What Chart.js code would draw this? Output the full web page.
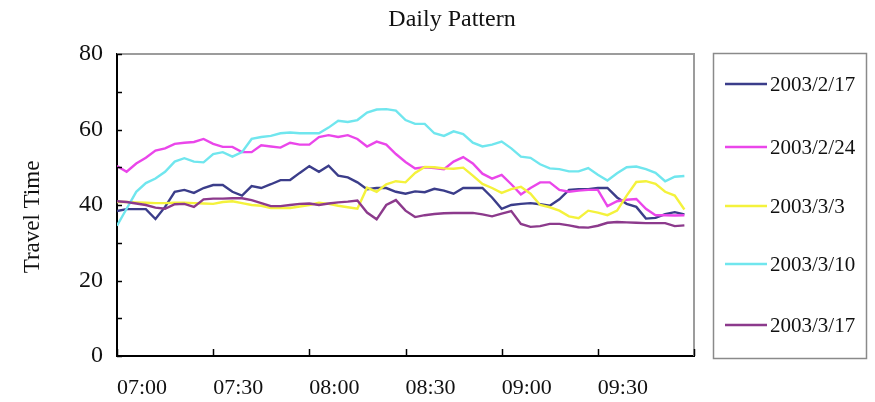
<!DOCTYPE html>
<html><head><meta charset="utf-8">
<script src="https://cdn.jsdelivr.net/npm/chart.js@4/dist/chart.umd.min.js"></script>
<style>html,body{margin:0;padding:0;background:#fff}#wrap{width:875px;height:402px;position:relative}</style>
</head><body><div id="wrap"><canvas id="c" width="875" height="402"></canvas></div>
<script>
// minutes after 07:00 (3-minute samples)
const minutes = [0,3,6,9,12,15,18,21,24,27,30,33,36,39,42,45,48,51,54,57,60,63,66,69,72,75,78,81,84,87,90,93,96,99,102,105,108,111,114,117,120,123,126,129,132,135,138,141,144,147,150,153,156,159,162,165,168,171,174,177];
const tickLabels = ['07:00','07:30','08:00','08:30','09:00','09:30'];
const seriesNames = ['2003/2/17','2003/2/24','2003/3/3','2003/3/10','2003/3/17'];
const seriesColors = ['#3b3d8a','#ea46ea','#f4f23c','#70e6ee','#8c3a8c'];
const s0217 = [38.4,38.9,38.9,38.9,36.3,39.5,43.5,44,43.2,44.5, 45.3,45.3,43.5,42.5,45,44.5,45.5,46.6,46.6,48.5, 50.3,48.8,50.4,47.8,47.3,46,44.2,44.5,44.5,43.5, 43,43.6,43.4,44.3,43.8,43,44.5,44.5,44.5,42, 39,40,40.3,40.5,40.2,39.8,41.5,44,44.2,44.2, 44.5,44.5,42,40.3,39.5,36.4,36.6,37.6,38.1,37.5];
const s0224 = [50.3,48.8,51,52.5,54.4,55,56.2,56.5,56.7,57.5, 56.2,55.4,55.4,54,54,55.8,55.5,55.2,56.5,56, 56,58,58.5,58,58.5,57.5,55.5,56.8,56,53.5, 51.4,49.7,50,49.8,49.5,51.5,52.7,51,48.3,47, 48,45.5,42.8,44.5,46,46,44,43.5,43.8,44, 44,39.7,41,41.4,41.6,39,37.3,37.3,37.2,37.3];
const s0303 = [40.8,40.8,40.7,40.6,40.5,40.5,40.6,40.6,40.5,40.4, 40.3,40.8,41,40.5,40,39.8,39.2,39.2,39.2,39.6, 40,40.6,40.3,39.8,39.4,39,44.6,43.5,45.5,46.3, 46,48.5,50.1,50,49.7,49.6,49.9,47.8,45.6,44.5, 43.2,44.2,44.8,43,40,39.4,38.5,37,36.5,38.5, 38,37.3,38.5,42.5,46.1,46.3,45.6,43.5,42.5,38.8];
const s0310 = [34.5,39,43.5,45.8,47,48.8,51.5,52.4,51.5,51.3, 53.5,54,52.8,54,57.5,58,58.3,59,59.2,59, 59,59,60.5,62.3,62,62.5,64.5,65.3,65.4,65, 62.5,61.5,61.5,59,58.3,59.5,58.8,56.5,55.5,56, 56.8,55,52.8,52.5,50.8,49.7,49.5,48.9,48.9,49.8, 48,46.5,48.4,50,50.2,49.5,48.5,46.3,47.5,47.7];
const s0317 = [41,40.8,40.4,40,39.3,39,40.2,40.3,39.5,41.5, 41.7,41.7,41.8,41.8,41.3,40.5,39.7,39.7,40,40.3, 40.4,40,40.4,40.7,40.9,41.2,38,36.2,40,41.3, 38.5,36.8,37.3,37.6,37.8,37.9,37.9,37.9,37.5,37, 37.7,38.4,35,34.2,34.4,35,35,34.6,34.1,34, 34.5,35.3,35.5,35.4,35.3,35.2,35.2,35.2,34.4,34.6];
const seriesValues = [s0217, s0224, s0303, s0310, s0317];

const FONT = '"Liberation Serif", "Times New Roman", serif';

const datasets = seriesValues.map((vals, k) => ({
  label: seriesNames[k],
  data: minutes.map((m, i) => ({x: m, y: vals[i]})),
  borderColor: seriesColors[k],
  backgroundColor: seriesColors[k],
  borderWidth: 2.4,
  pointRadius: 0,
  tension: 0,
  fill: false,
  order: 5 - k
}));

const decor = {
  id: 'decor',
  beforeDraw(chart) {
    const ctx = chart.ctx;
    ctx.save(); ctx.fillStyle = '#fff'; ctx.fillRect(0, 0, chart.width, chart.height); ctx.restore();
  },
  afterDraw(chart) {
    const {ctx, chartArea: a, scales: {x, y}} = chart;
    ctx.save();
    // frame top/right
    ctx.strokeStyle = '#9c9c9c'; ctx.lineWidth = 2;
    ctx.beginPath(); ctx.moveTo(a.left, a.top); ctx.lineTo(a.right, a.top); ctx.lineTo(a.right, a.bottom); ctx.stroke();
    // inward tick marks
    ctx.strokeStyle = '#000'; ctx.lineWidth = 1.5;
    y.ticks.forEach(t => {
      const py = Math.round(y.getPixelForValue(t.value)) + 0.5;
      ctx.beginPath(); ctx.moveTo(a.left, py); ctx.lineTo(a.left + 5, py); ctx.stroke();
    });
    x.ticks.forEach(t => {
      const px = Math.round(x.getPixelForValue(t.value)) + 0.5;
      ctx.beginPath(); ctx.moveTo(px, a.bottom); ctx.lineTo(px, a.bottom - 7); ctx.stroke();
    });
    // title
    ctx.fillStyle = '#111';
    ctx.font = '24px ' + FONT;
    ctx.textAlign = 'center'; ctx.textBaseline = 'middle';
    ctx.fillText('Daily Pattern', 452, 20);
    // y axis title
    ctx.save();
    ctx.translate(33, 217); ctx.rotate(-Math.PI / 2);
    ctx.font = '23px ' + FONT;
    ctx.fillText('Travel Time', 0, 0);
    ctx.restore();
    // legend
    ctx.strokeStyle = '#8a8a8a'; ctx.lineWidth = 1.5;
    ctx.strokeRect(713.5, 53.5, 153, 305);
    const ys = [84, 147, 206, 264, 325];
    ctx.font = '21px ' + FONT; ctx.textAlign = 'left'; ctx.textBaseline = 'middle';
    chart.data.datasets.forEach((ds, k) => {
      ctx.strokeStyle = ds.borderColor; ctx.lineWidth = 2.4;
      ctx.beginPath(); ctx.moveTo(725, ys[k]); ctx.lineTo(767, ys[k]); ctx.stroke();
      ctx.fillStyle = '#111';
      ctx.fillText(ds.label, 770, ys[k] + 1);
    });
    ctx.restore();
  }
};

new Chart(document.getElementById('c'), {
  type: 'line',
  data: {datasets},
  options: {
    responsive: false,
    animation: false,
    devicePixelRatio: 1,
    layout: {padding: {top: 54, right: 181, bottom: 0, left: 0}},
    plugins: {legend: {display: false}, title: {display: false}, tooltip: {enabled: false}},
    scales: {
      x: {
        type: 'linear', min: 0, max: 180,
        afterBuildTicks: s => { s.ticks = [0,30,60,90,120,150,180].map(v => ({value: v})); },
        afterFit: s => { s.height = 46; },
        ticks: {
          callback: v => tickLabels[v / 30] !== undefined ? tickLabels[v / 30] : '',
          align: 'start', maxRotation: 0, autoSkip: false, padding: 19,
          color: '#111', font: {family: FONT, size: 22}
        },
        grid: {drawOnChartArea: false, drawTicks: false},
        border: {display: true, color: '#000', width: 2}
      },
      y: {
        min: 0, max: 80,
        afterBuildTicks: s => { s.ticks = [0,10,20,30,40,50,60,70,80].map(v => ({value: v})); },
        afterFit: s => { s.width = 117; },
        ticks: {
          callback: v => (v % 20 === 0 ? String(v) : ''),
          padding: 14, color: '#111', font: {family: FONT, size: 24}
        },
        grid: {drawOnChartArea: false, drawTicks: false},
        border: {display: true, color: '#000', width: 2}
      }
    }
  },
  plugins: [decor]
});
</script></body></html>
